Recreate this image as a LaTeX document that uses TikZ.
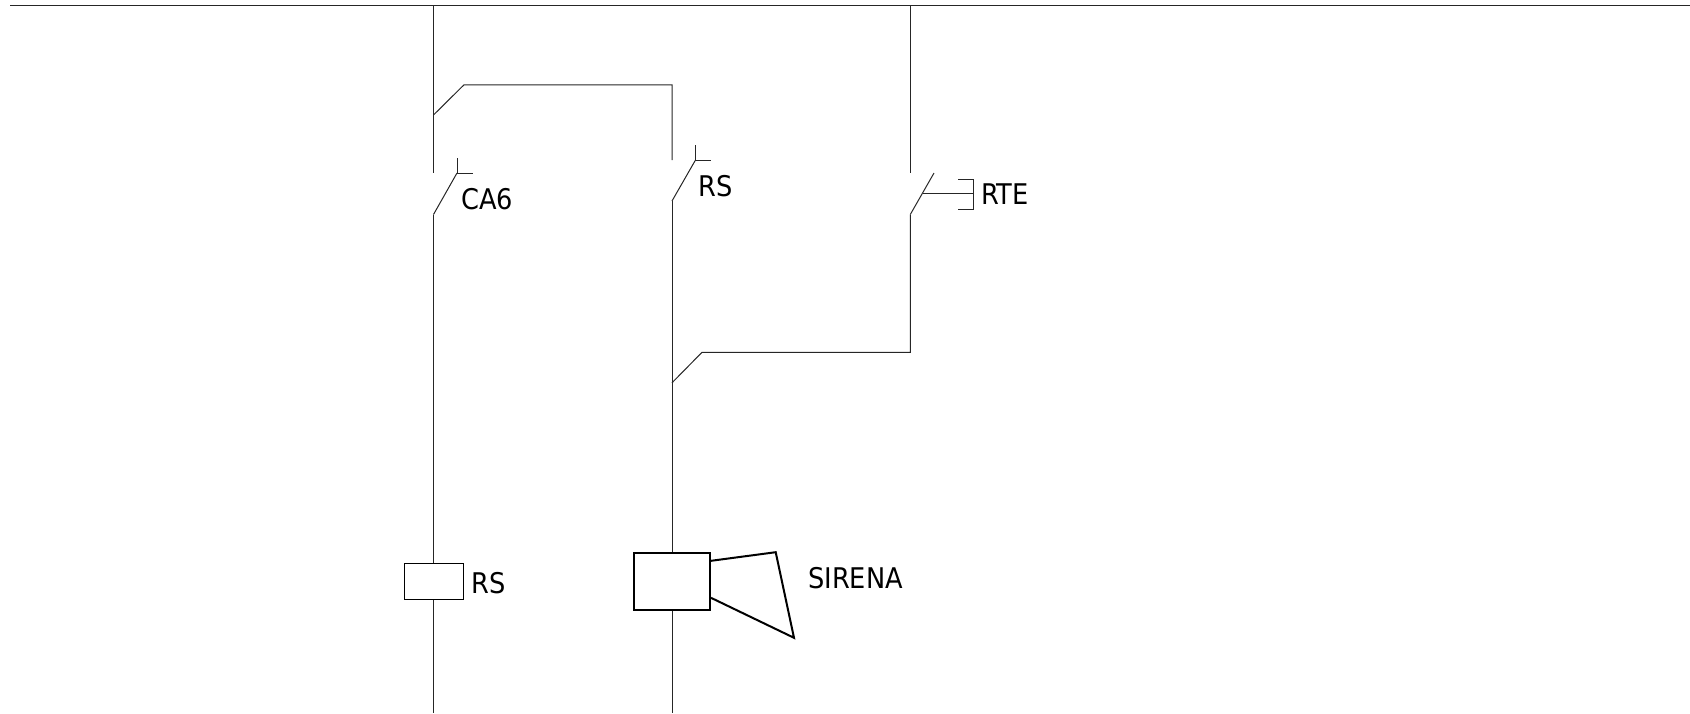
\documentclass[tikz,border=0pt]{standalone}
\usepackage{fontspec}
\setmainfont{DejaVu Sans Condensed}
\begin{document}
\begin{tikzpicture}[x=1pt,y=-1pt,line join=miter,
  wire/.style={line width=1pt,black!85},
  thick wire/.style={line width=2pt,black},
  lbl/.style={font=\fontsize{28.5}{30}\selectfont,inner sep=0pt,anchor=base west,text=black},
  coil/.style={draw=black,line width=1pt,fill=white,inner sep=0pt,minimum width=59pt,minimum height=35.5pt},
  horn box/.style={draw=black,line width=2pt,fill=white,inner sep=0pt,minimum width=75.5pt,minimum height=57pt}]
\useasboundingbox (0,0) rectangle (1690,713);
% supply rail
\coordinate (railL) at (10,5);
\coordinate (railR) at (1690,5);
\coordinate (railA) at (433.5,5);
\coordinate (railC) at (910.3,5);
\draw[wire] (railL) -- (railR);
% bottom ends
\coordinate (endA) at (433.5,713);
\coordinate (endB) at (672,713);
% coil and siren body
\node[coil] (rscoil) at (433.8,581.5) {};
\node[horn box] (hornbox) at (672.2,581.3) {};
% column A
\coordinate (a1) at (433.5,115);
\coordinate (a2) at (464,84.8);
\coordinate (a3) at (672,84.8);
\coordinate (a4) at (672,160);
\coordinate (a5) at (433.5,173);
\coordinate (ca6top) at (457,173);
\coordinate (ca6bot) at (433.5,214.5);
\coordinate (ca6t1) at (457,158);
\coordinate (ca6t2) at (473,173);
\draw[wire] (railA) -- (a5);
\draw[wire] (a1) -- (a2) -- (a3) -- (a4);
\draw[wire] (ca6bot) -- (ca6top);
\draw[wire] (ca6t1) -- (ca6top) -- (ca6t2);
\draw[wire] (ca6bot) -- (rscoil.north -| ca6bot);
\draw[wire] (rscoil.south -| endA) -- (endA);
% column B
\coordinate (rstop) at (695.5,160);
\coordinate (rsbot) at (672,201);
\coordinate (rst1) at (695.5,145);
\coordinate (rst2) at (711,160);
\draw[wire] (rsbot) -- (rstop);
\draw[wire] (rst1) -- (rstop) -- (rst2);
\draw[wire] (rsbot) -- (rsbot |- hornbox.north);
\draw[wire] (hornbox.south -| endB) -- (endB);
% column C
\coordinate (c1) at (910.3,173);
\coordinate (rtetop) at (934,173);
\coordinate (rtebot) at (910.3,214.5);
\coordinate (rtemid) at (923,193.7);
\coordinate (rtebm) at (973.5,193.7);
\coordinate (rtebt) at (973.5,179);
\coordinate (rtebb) at (973.5,209);
\coordinate (rtett) at (958,179);
\coordinate (rtetb) at (958,209);
\coordinate (c2) at (910.3,352.3);
\coordinate (c3) at (702,352.3);
\coordinate (c4) at (672,382.8);
\draw[wire] (railC) -- (c1);
\draw[wire] (rtebot) -- (rtetop);
\draw[wire] (rtemid) -- (rtebm);
\draw[wire] (rtett) -- (rtebt) -- (rtebb) -- (rtetb);
\draw[wire] (rtebot) -- (c2) -- (c3) -- (c4);
% siren horn
\coordinate (h1) at (711,560.8);
\coordinate (h2) at (775.7,552.2);
\coordinate (h3) at (794,637.8);
\coordinate (h4) at (711,597.8);
\draw[thick wire] (h1) -- (h2) -- (h3) -- (h4);
% labels
\node[lbl] (lca6) at (461,209) {CA6};
\node[lbl] (lrs1) at (698.5,196) {RS};
\node[lbl] (lrte) at (981,204) {RTE};
\node[lbl] (lrs2) at (471,593) {RS};
\node[lbl] (lsir) at (808,588) {SIRENA};
\end{tikzpicture}
\end{document}
